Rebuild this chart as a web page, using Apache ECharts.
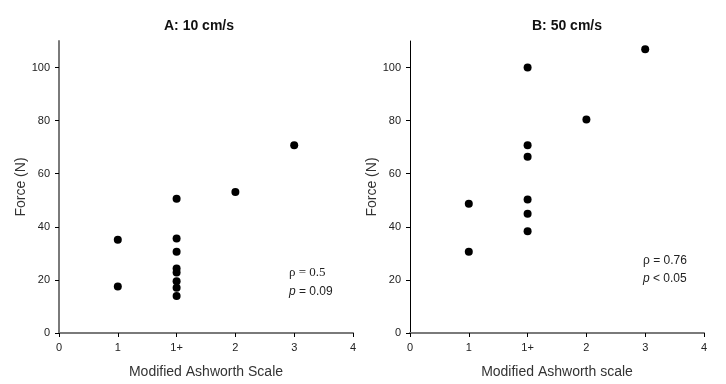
<!DOCTYPE html>
<html>
<head>
<meta charset="utf-8">
<script src="https://cdn.jsdelivr.net/npm/echarts@6/dist/echarts.min.js"></script>
<style>html,body{margin:0;padding:0;background:#fff}#c{width:726px;height:384px}</style>
</head>
<body>
<div id="c"></div>
<script>
var xTickLabels = ['0', '1', '1+', '2', '3', '4'];
var yTicks = [0, 20, 40, 60, 80, 100];

var aCats  = ['1', '1', '1+', '1+', '1+', '1+', '1+', '1+', '1+', '1+', '2', '3'];
var aForce = [35.1, 17.5, 50.6, 35.6, 30.6, 24.3, 22.8, 19.5, 17.0, 13.9, 53.1, 70.7];

var bCats  = ['1', '1', '1+', '1+', '1+', '1+', '1+', '1+', '2', '3'];
var bForce = [48.7, 30.6, 100.0, 70.7, 66.4, 50.3, 44.9, 38.3, 80.4, 106.9];

function toPts(cats, vals) {
  return cats.map(function (c, i) { return [xTickLabels.indexOf(c), vals[i]]; });
}

var chart = echarts.init(document.getElementById('c'), null, { renderer: 'canvas' });
var font = 'Liberation Sans, Arial, sans-serif';

function xAxis(idx, name) {
  return {
    gridIndex: idx, type: 'value', min: 0, max: 5, interval: 1,
    name: name, nameLocation: 'middle', nameGap: 32,
    nameTextStyle: { fontFamily: font, fontSize: 14, color: '#333' },
    axisLine: { show: true, lineStyle: { color: '#7a7a7a', width: 2 } },
    axisTick: { show: true, inside: false, length: 4, lineStyle: { color: '#000', width: 1 }, customValues: [0, 1, 2, 3, 4, 5] },
    axisLabel: { fontFamily: font, fontSize: 11, color: '#222', margin: 9, customValues: [0, 1, 2, 3, 4, 5],
      formatter: function (v) { return xTickLabels[Math.round(v)]; } },
    splitLine: { show: false }
  };
}
function yAxis(idx, color, width) {
  return {
    gridIndex: idx, type: 'value', min: 0, max: 110,
    name: 'Force (N)', nameLocation: 'middle', nameGap: 30, nameRotate: 90,
    nameTextStyle: { fontFamily: font, fontSize: 14, color: '#333' },
    axisLine: { show: true, lineStyle: { color: color, width: width } },
    axisTick: { show: true, inside: false, length: 4, lineStyle: { color: '#000', width: 1 }, customValues: yTicks },
    axisLabel: { fontFamily: font, fontSize: 11, color: '#222', margin: 9, customValues: yTicks },
    splitLine: { show: false }
  };
}

chart.setOption({
  animation: false,
  backgroundColor: '#fff',
  title: [
    { text: 'A: 10 cm/s', left: 194, top: 14, textAlign: 'center',
      textStyle: { fontFamily: font, fontSize: 14, fontWeight: 'bold', color: '#111' } },
    { text: 'B: 50 cm/s', left: 562, top: 14, textAlign: 'center',
      textStyle: { fontFamily: font, fontSize: 14, fontWeight: 'bold', color: '#111' } }
  ],
  grid: [
    { left: 59, top: 41, width: 294, height: 294 },
    { left: 410, top: 41, width: 294, height: 294 }
  ],
  xAxis: [xAxis(0, 'Modified Ashworth Scale'), xAxis(1, 'Modified Ashworth scale')],
  yAxis: [yAxis(0, '#7a7a7a', 2), yAxis(1, '#000', 1)],
  series: [
    { type: 'scatter', xAxisIndex: 0, yAxisIndex: 0, data: toPts(aCats, aForce),
      symbol: 'circle', symbolSize: 8, itemStyle: { color: '#000', opacity: 1 } },
    { type: 'scatter', xAxisIndex: 1, yAxisIndex: 1, data: toPts(bCats, bForce),
      symbol: 'circle', symbolSize: 8, itemStyle: { color: '#000', opacity: 1 } }
  ],
  graphic: [
    { type: 'text', left: 289, top: 266, style: { text: 'ρ = 0.5', font: '13px "Liberation Serif", serif', fill: '#222' } },
    { type: 'text', left: 289, top: 286, style: { text: '{i|p} = 0.09', fill: '#222',
        rich: { i: { fontStyle: 'italic', fontFamily: font, fontSize: 12 } }, fontFamily: font, fontSize: 12 } },
    { type: 'text', left: 643, top: 255, style: { text: 'ρ = 0.76', fontFamily: font, fontSize: 12, fill: '#222' } },
    { type: 'text', left: 643, top: 273, style: { text: '{i|p} < 0.05', fill: '#222',
        rich: { i: { fontStyle: 'italic', fontFamily: font, fontSize: 12 } }, fontFamily: font, fontSize: 12 } }
  ]
});
</script>
</body>
</html>
